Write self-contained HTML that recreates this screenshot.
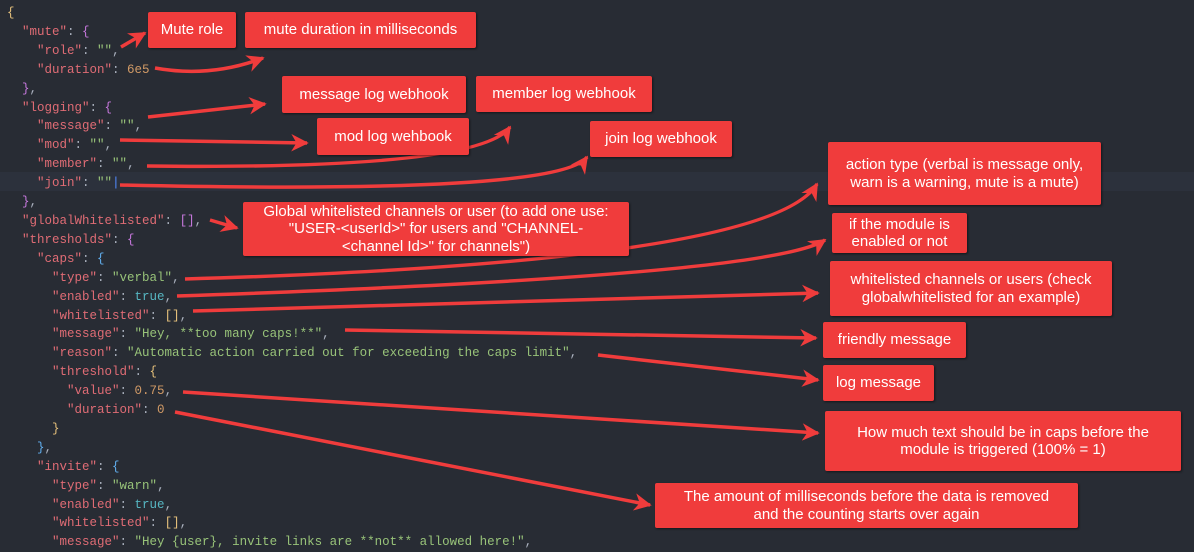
<!DOCTYPE html>
<html><head><meta charset="utf-8"><style>
body{margin:0;width:1194px;height:552px;background:#282c34;overflow:hidden;position:relative;font-family:"Liberation Mono",monospace}
.hl{position:absolute;left:0;top:172px;width:1194px;height:19px;background:#2c313c}
.code{position:absolute;left:7px;top:4px;font-size:12.5px;line-height:18.9px;white-space:pre;color:#abb2bf}
.k{color:#e06c75}.s{color:#98c379}.n{color:#d19a66}.b{color:#56b6c2}
.y{color:#e5c07b}.p{color:#c678dd}.bl{color:#61afef}
.box{position:absolute;background:#f03c3c;color:#fff;font-family:"Liberation Sans",sans-serif;font-size:15px;line-height:17.5px;display:flex;align-items:center;justify-content:center;text-align:center;border-radius:2px;box-shadow:1px 1px 2px rgba(0,0,0,.5)}
svg{position:absolute;left:0;top:0}
</style></head><body>
<div class="hl"></div>
<div class="code"><span class="y">{</span>
  <span class="k">"mute"</span>: <span class="p">{</span>
    <span class="k">"role"</span>: <span class="s">""</span>,
    <span class="k">"duration"</span>: <span class="n">6e5</span>
  <span class="p">}</span>,
  <span class="k">"logging"</span>: <span class="p">{</span>
    <span class="k">"message"</span>: <span class="s">""</span>,
    <span class="k">"mod"</span>: <span class="s">""</span>,
    <span class="k">"member"</span>: <span class="s">""</span>,
    <span class="k">"join"</span>: <span class="s">""</span><span style="color:#528bff">|</span>
  <span class="p">}</span>,
  <span class="k">"globalWhitelisted"</span>: <span class="p">[]</span>,
  <span class="k">"thresholds"</span>: <span class="p">{</span>
    <span class="k">"caps"</span>: <span class="bl">{</span>
      <span class="k">"type"</span>: <span class="s">"verbal"</span>,
      <span class="k">"enabled"</span>: <span class="b">true</span>,
      <span class="k">"whitelisted"</span>: <span class="y">[]</span>,
      <span class="k">"message"</span>: <span class="s">"Hey, **too many caps!**"</span>,
      <span class="k">"reason"</span>: <span class="s">"Automatic action carried out for exceeding the caps limit"</span>,
      <span class="k">"threshold"</span>: <span class="y">{</span>
        <span class="k">"value"</span>: <span class="n">0.75</span>,
        <span class="k">"duration"</span>: <span class="n">0</span>
      <span class="y">}</span>
    <span class="bl">}</span>,
    <span class="k">"invite"</span>: <span class="bl">{</span>
      <span class="k">"type"</span>: <span class="s">"warn"</span>,
      <span class="k">"enabled"</span>: <span class="b">true</span>,
      <span class="k">"whitelisted"</span>: <span class="y">[]</span>,
      <span class="k">"message"</span>: <span class="s">"Hey {user}, invite links are **not** allowed here!"</span>,</div>

<svg width="1194" height="552">
<defs><marker id="a" viewBox="0 0 10 10" refX="9" refY="5" markerWidth="6" markerHeight="5" orient="auto" markerUnits="strokeWidth"><path d="M0,0L10,5L0,10L3,5z" fill="#f03c3c"/></marker></defs>
<g stroke="#f03c3c" stroke-width="3.5" fill="none" marker-end="url(#a)">
<path d="M121,47 L145,33"/>
<path d="M155,68 Q210,78 263,58"/>
<path d="M148,117 L265,104"/>
<path d="M120,140 L307,143"/>
<path d="M147,166 Q480,170 510,127"/>
<path d="M120,185 Q560,195 587,157"/>
<path d="M210,220 L237,228"/>
<path d="M185,279 Q770,262 817,184"/>
<path d="M177,296 Q770,276 825,240"/>
<path d="M193,311 L818,293"/>
<path d="M345,330 L816,338"/>
<path d="M598,355 L818,380"/>
<path d="M183,392 L818,433"/>
<path d="M175,412 L650,505"/>
</g></svg>

<div class="box" style="left:148px;top:12px;width:88px;height:36px">Mute role</div>
<div class="box" style="left:245px;top:12px;width:231px;height:36px">mute duration in milliseconds</div>
<div class="box" style="left:282px;top:76px;width:184px;height:37px">message log webhook</div>
<div class="box" style="left:476px;top:76px;width:176px;height:36px">member log webhook</div>
<div class="box" style="left:317px;top:118px;width:152px;height:37px">mod log wehbook</div>
<div class="box" style="left:590px;top:121px;width:142px;height:36px">join log webhook</div>
<div class="box" style="left:828px;top:142px;width:273px;height:63px">action type (verbal is message only,<br>warn is a warning, mute is a mute)</div>
<div class="box" style="left:243px;top:202px;width:386px;height:54px">Global whitelisted channels or user (to add one use:<br>"USER-&lt;userId&gt;" for users and "CHANNEL-<br>&lt;channel Id&gt;" for channels")</div>
<div class="box" style="left:832px;top:213px;width:135px;height:40px">if the module is<br>enabled or not</div>
<div class="box" style="left:830px;top:261px;width:282px;height:55px">whitelisted channels or users (check<br>globalwhitelisted for an example)</div>
<div class="box" style="left:823px;top:322px;width:143px;height:36px">friendly message</div>
<div class="box" style="left:823px;top:365px;width:111px;height:36px">log message</div>
<div class="box" style="left:825px;top:411px;width:356px;height:60px">How much text should be in caps before the<br>module is triggered (100% = 1)</div>
<div class="box" style="left:655px;top:483px;width:423px;height:45px">The amount of milliseconds before the data is removed<br>and the counting starts over again</div>
</body></html>
